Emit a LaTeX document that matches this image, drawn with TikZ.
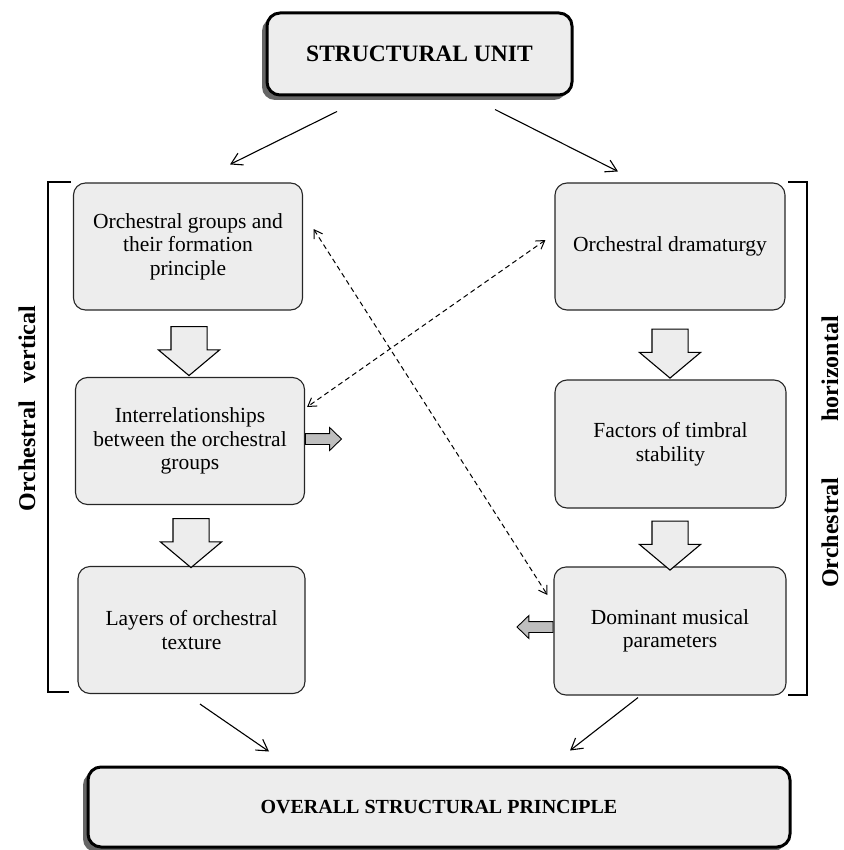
\documentclass[tikz,border=0pt]{standalone}
\usepackage{fontspec}
\setmainfont{Liberation Serif}
\usetikzlibrary{arrows.meta,shapes.arrows,shadows,calc}
\definecolor{boxfill}{RGB}{237,237,237}
\definecolor{sidegray}{RGB}{190,190,190}
\begin{document}
\begin{tikzpicture}[x=1pt,y=-1pt,
  cbox/.style={draw=black!85, line width=1.1pt, fill=boxfill, rounded corners=12pt,
    align=center, inner sep=4pt, font=\fontsize{21.5}{23.5}\selectfont,
    minimum width=229pt, minimum height=127pt},
  mainbox/.style={draw=black, line width=3pt, fill=boxfill, rounded corners=13pt,
    font=\bfseries\fontsize{23.5}{26}\selectfont,
    drop shadow={shadow xshift=-5pt, shadow yshift=-5pt, fill=black!60, opacity=1}},
  barrow/.style={single arrow, draw=black, line width=1.1pt, fill=boxfill,
    rotate=-90, inner xsep=0pt, inner ysep=17.5pt, minimum height=49pt,
    single arrow head extend=12.5pt, single arrow tip angle=100},
  sarrow/.style={single arrow, draw=black, line width=0.9pt, fill=sidegray,
    inner xsep=0pt, inner ysep=5pt, minimum height=36pt,
    single arrow head extend=6pt, single arrow tip angle=88},
  conn/.style={line width=1.1pt, -{Straight Barb[length=11pt,width=13pt]}},
  dconn/.style={line width=1pt, dash pattern=on 5pt off 3.5pt,
    {Straight Barb[length=8pt,width=10pt]}-{Straight Barb[length=8pt,width=10pt]}},
  brk/.style={line width=1.1pt},
  vlabel/.style={rotate=90, inner sep=0pt, font=\bfseries\fontsize{24}{28}\selectfont}
]
\useasboundingbox (0,0) rectangle (843,850);

% main boxes
\node[mainbox, minimum width=305pt, minimum height=82pt] (top) at (419.5,54) {STRUCTURAL UNIT};
\node[mainbox, minimum width=702pt, minimum height=80pt, font=\bfseries\fontsize{20}{24}\selectfont] (bot) at (439,807) {OVERALL STRUCTURAL PRINCIPLE};

% left column
\node[cbox] (b1) at (188,246.5) {Orchestral groups and\\their formation\\principle};
\node[cbox] (b2) at (190,441) {Interrelationships\\between the orchestral\\groups};
\node[cbox, minimum width=227pt] (b3) at (191.5,630) {Layers of orchestral\\texture};

% right column
\node[cbox, minimum width=230pt] (b4) at (670,246.5) {Orchestral dramaturgy};
\node[cbox, minimum width=231pt, minimum height=128pt] (b5) at (670.5,444) {Factors of timbral\\stability};
\node[cbox, minimum width=232pt, minimum height=128pt] (b6) at (670,631) {Dominant musical\\parameters};

% block arrows
\node[barrow] (a1) at (189,343.5) {};
\node[barrow] (a2) at (191,535.5) {};
\node[barrow] (a3) at (670,346) {};
\node[barrow] (a4) at (670,538) {};

% side gray arrows
\node[sarrow, anchor=tail] (g1) at ($(b2.east)+(0,-2)$) {};
\node[sarrow, rotate=180, anchor=tail] (g2) at ($(b6.west)+(0,-4)$) {};

% solid connectors
\draw[conn] ($(top.south)+(-82.5,15)$) -- ($(b1.north)+(42,-18)$);
\draw[conn] ($(top.south)+(75.5,13)$) -- ($(b4.north)+(-52,-11)$);
\draw[conn] ($(b3.south)+(8.5,10)$) -- ($(bot.north)+(-170,-14)$);
\draw[conn] ($(b6.south)+(-32,2)$) -- ($(bot.north)+(131,-15)$);

% dashed connectors
\draw[dconn] ($(b1.east)+(10.5,-17.5)$) -- ($(b6.west)+(-6,-36)$);
\draw[dconn] ($(b4.west)+(-9,-6.5)$) -- ($(b2.east)+(2,-34)$);

% brackets
\coordinate (lbt) at (71,182);
\coordinate (lbb) at (69,692);
\draw[brk] (lbt) -- (48,182) -- (48,692) -- (lbb);
\coordinate (rbt) at (788,182);
\coordinate (rbb) at (788,695);
\draw[brk] (rbt) -- (807,182) -- (807,695) -- (rbb);

% side labels
\node[vlabel] (lv) at (27,408.5) {Orchestral\hspace{18pt}vertical};
\node[vlabel] (lh) at (830,452) {Orchestral\hspace{56pt}horizontal};
\end{tikzpicture}
\end{document}
